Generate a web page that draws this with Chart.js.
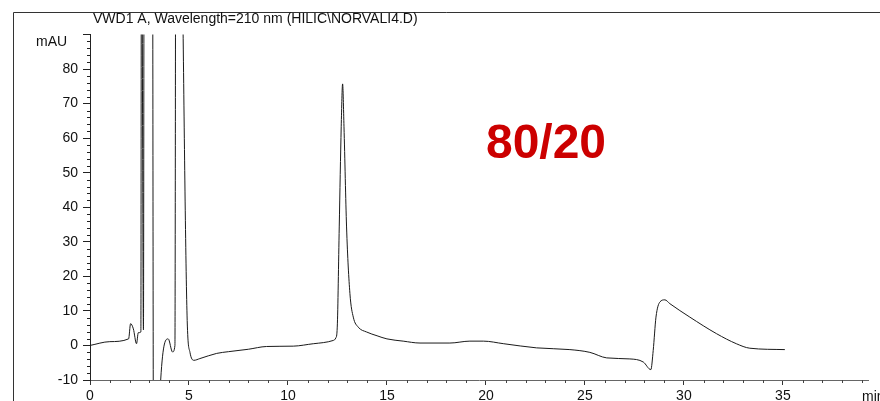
<!DOCTYPE html>
<html>
<head>
<meta charset="utf-8">
<script src="https://cdn.jsdelivr.net/npm/chart.js@4/dist/chart.umd.min.js"></script>
<style>
html,body{margin:0;padding:0;background:#fff;}
#wrap{width:880px;height:401px;position:relative;}
</style>
</head>
<body>
<div id="wrap"><canvas id="c" width="880" height="401"></canvas></div>
<script>
// Retention time (min)
const times = [0, 1, 1.95, 2.05, 2.19, 2.35, 2.44, 2.57, 2.60, 2.70, 2.74, 3.15, 3.21, 3.5, 3.57, 3.95, 4.17, 4.29, 4.34, 4.6, 4.70, 4.91, 5.05, 5.25, 5.55, 6.4, 7.0, 8.0, 8.92, 10.27, 11.28, 12.29, 12.42, 12.49, 12.59, 12.69, 12.76, 12.83, 12.96, 13.13, 13.3, 13.55, 13.97, 14.5, 15.0, 15.82, 16.67, 18.18, 19.19, 19.87, 20.9, 22.56, 24.24, 25.25, 26.1, 27.27, 27.95, 28.33, 28.45, 28.59, 28.79, 29.04, 29.29, 30.3, 31.65, 32.65, 33.33, 35.1];
// Absorbance (mAU); off-scale peaks clipped by the axis range
const absorbance = [0, 1.1, 1.9, 6.3, 4.8, 0.5, 3.7, 3.9, 150, 4.5, 150, 150, -40, -40, -10, 1.9, -1.9, 0, 150, 150, 92, 7.2, -2, -4.3, -3.8, -2.3, -1.8, -1.1, -0.3, -0.2, 0.5, 1.45, 2.2, 5.3, 34.3, 63.3, 75.7, 63.3, 34.3, 15, 8.2, 5.3, 3.9, 2.8, 1.9, 1.25, 0.7, 0.7, 1.25, 1.25, 0.5, -0.7, -1.2, -2, -3.6, -3.9, -4.8, -7, -1.45, 8.2, 12.6, 13.2, 12.1, 8.2, 3.4, 0.5, -0.8, -1.2];
const xMajorTicks = [0, 5, 10, 15, 20, 25, 30, 35];
const yTickLabels = [-10, 0, 10, 20, 30, 40, 50, 60, 70, 80];

const FONT = '"Liberation Sans", Arial, sans-serif';

const decor = {
  id: 'decor',
  afterDraw(chart) {
    const ctx = chart.ctx;
    const xs = chart.scales.x, ys = chart.scales.y;
    const ca = chart.chartArea;
    ctx.save();
    // frame
    ctx.strokeStyle = '#333';
    ctx.lineWidth = 1;
    ctx.beginPath();
    ctx.moveTo(13.5, 401); ctx.lineTo(13.5, 12.5); ctx.lineTo(880, 12.5);
    ctx.stroke();
    // minor ticks x
    ctx.strokeStyle = '#444';
    ctx.beginPath();
    for (let t = 1; t <= 39; t++) {
      if (t % 5 === 0) continue;
      const px = Math.round(xs.getPixelForValue(t)) + 0.5;
      ctx.moveTo(px, ca.bottom); ctx.lineTo(px, ca.bottom + 3);
    }
    ctx.stroke();
    // minor ticks y
    ctx.strokeStyle = '#222';
    ctx.beginPath();
    for (let v = -8; v < 90; v += 2) {
      if (v % 10 === 0) continue;
      const py = Math.round(ys.getPixelForValue(v)) + 0.5;
      ctx.moveTo(ca.left - 3, py); ctx.lineTo(ca.left, py);
    }
    ctx.stroke();
    // texts
    ctx.fillStyle = '#111';
    ctx.font = '14px ' + FONT;
    ctx.textBaseline = 'middle';
    ctx.textAlign = 'left';
    ctx.fillText('VWD1 A, Wavelength=210 nm (HILIC\\NORVALI4.D)', 93, 19);
    ctx.fillText('mAU', 36, 42);
    ctx.fillText('min', 862, 397);
    ctx.fillStyle = '#cc0000';
    ctx.font = 'bold 48px ' + FONT;
    ctx.textAlign = 'center';
    ctx.fillText('80/20', 546, 145);
    ctx.restore();
  }
};

new Chart(document.getElementById('c'), {
  type: 'line',
  data: {
    datasets: [{
      data: times.map((t, i) => ({x: t, y: absorbance[i]})),
      borderColor: '#1a1a1a',
      borderWidth: 1,
      pointRadius: 0,
      fill: false,
      cubicInterpolationMode: 'monotone'
    }]
  },
  options: {
    responsive: false,
    animation: false,
    events: [],
    layout: {padding: {top: 34.5, right: 12, left: 0, bottom: 0}},
    plugins: {legend: {display: false}, tooltip: {enabled: false}, title: {display: false}},
    scales: {
      x: {
        type: 'linear',
        min: 0, max: 39.3,
        afterFit(s) { s.height = 21; },
        afterBuildTicks(s) { s.ticks = xMajorTicks.map(v => ({value: v})); },
        ticks: {
          font: {family: FONT, size: 14}, color: '#111', padding: 3,
          maxRotation: 0, autoSkip: false,
          callback: v => String(v)
        },
        grid: {drawOnChartArea: false, tickLength: 5, color: '#333', tickColor: '#333'},
        border: {color: '#666', width: 1, dash: [3, 2]}
      },
      y: {
        min: -10, max: 90,
        afterFit(s) { s.width = 90; },
        afterBuildTicks(s) { s.ticks = yTickLabels.concat([90]).map(v => ({value: v})); },
        ticks: {
          font: {family: FONT, size: 14}, color: '#111', padding: 5,
          autoSkip: false,
          callback: v => (v === 90 ? '' : String(v))
        },
        grid: {drawOnChartArea: false, tickLength: 7, color: '#222', tickColor: '#222'},
        border: {color: '#222', width: 1}
      }
    }
  },
  plugins: [decor]
});
</script>
</body>
</html>
